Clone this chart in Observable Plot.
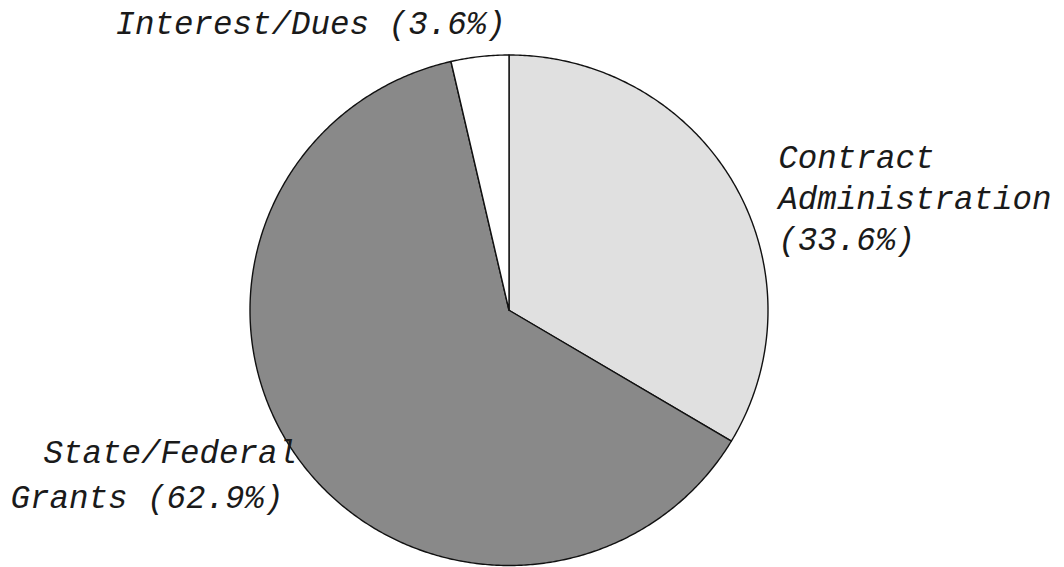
<!DOCTYPE html>
<html>
<head>
<meta charset="utf-8">
<script src="https://cdn.jsdelivr.net/npm/d3@7"></script>
<script src="https://cdn.jsdelivr.net/npm/@observablehq/plot@0.6"></script>
<style>
  html, body { margin: 0; padding: 0; background: #ffffff; }
  #chart { width: 1064px; height: 567px; overflow: hidden; }
  svg { display: block; }
</style>
</head>
<body>
<div id="chart"></div>
<script>
// ---- data ----
const categories = ["Contract Administration", "State/Federal Grants", "Interest/Dues"];
const shares = [33.6, 62.9, 3.6];
const fills = ["url(#dots)", "#898989", "#ffffff"];

// label text lines (each entry drawn as its own text)
const labelLines = [
  "Interest/Dues (3.6%)",
  "Contract\nAdministration\n(33.6%)",
  "State/Federal",
  "Grants (62.9%)"
];
// label anchors in pie units (radius = 1), baseline of last line
const labelX = [-1.519, 1.040, -1.797, -1.925];
const labelY = [1.084, 0.235, -0.599, -0.775];

// ---- build slice polygons from the shares ----
const total = d3.sum(shares);
const pie = d3.pie().sort(null).value(d => d)(shares);
const slicePts = [];
pie.forEach((p, i) => {
  slicePts.push({k: i, x: 0, y: 0});
  const n = Math.max(4, Math.ceil((p.endAngle - p.startAngle) / (Math.PI / 360)));
  for (let j = 0; j <= n; j++) {
    const a = p.startAngle + (p.endAngle - p.startAngle) * j / n;
    slicePts.push({k: i, x: Math.sin(a), y: Math.cos(a)});
  }
});

const labels = labelLines.map((t, i) => ({t, x: labelX[i], y: labelY[i]}));

const marks = categories.map((c, i) =>
  Plot.line(slicePts.filter(d => d.k === i), {
    x: "x", y: "y",
    curve: "linear-closed",
    fill: fills[i],
    stroke: "#111",
    strokeWidth: 1.4
  })
);
marks.push(Plot.text(labels, {
  x: "x", y: "y", text: "t",
  textAnchor: "start",
  lineAnchor: "bottom",
  lineHeight: 1.27,
  fill: "#1a1a1a",
  fontSize: 32.5,
  fontStyle: "italic",
  fontFamily: "'Liberation Mono', 'DejaVu Sans Mono', monospace"
}));

const svg = Plot.plot({
  width: 1064,
  height: 567,
  margin: 0,
  x: {domain: [-1, 1], range: [249.5, 767.5], axis: null},
  y: {domain: [-1, 1], range: [565, 54.5], axis: null},
  style: {background: "#ffffff", overflow: "visible"},
  marks
});

// dot pattern for the stippled slice
const defs = d3.select(svg).insert("defs", ":first-child");
const pat = defs.append("pattern")
  .attr("id", "dots").attr("patternUnits", "userSpaceOnUse")
  .attr("width", 2).attr("height", 2);
pat.append("rect").attr("width", 2).attr("height", 2).attr("fill", "#f2f2f2");
pat.append("rect").attr("width", 1).attr("height", 1).attr("fill", "#a8a8a8");

document.getElementById("chart").appendChild(svg);
</script>
</body>
</html>
